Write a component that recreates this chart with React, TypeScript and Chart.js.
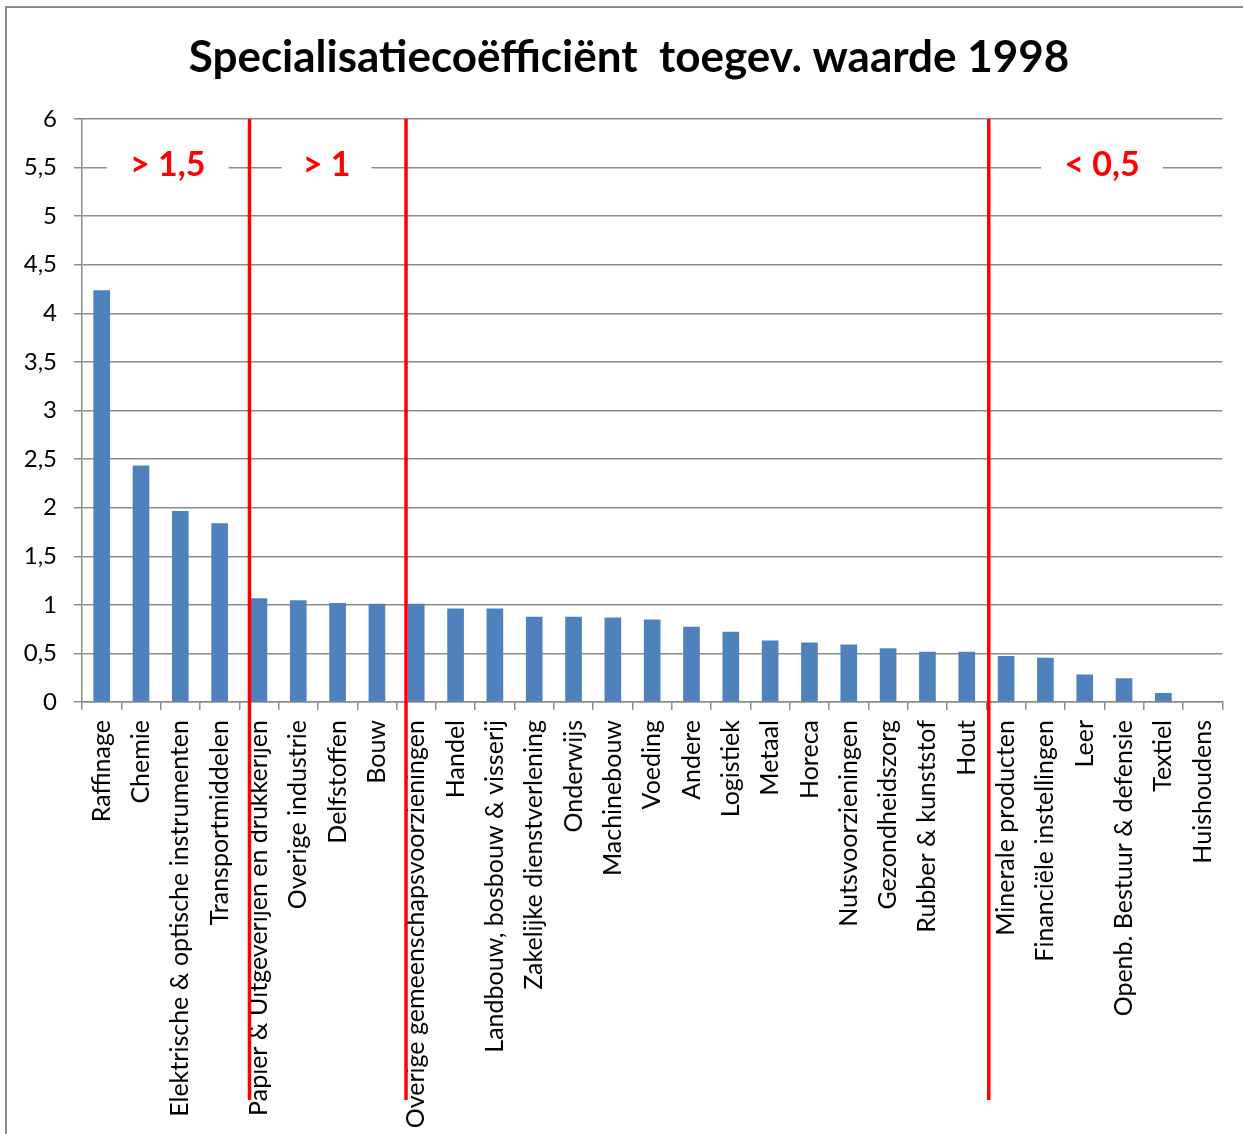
import React, { useEffect, useRef } from 'react';
import { Chart, registerables } from 'chart.js';

Chart.register(...registerables);

const titleText = 'Specialisatiecoëfficiënt  toegev. waarde 1998';

const categories = [
  'Raffinage',
  'Chemie',
  'Elektrische & optische instrumenten',
  'Transportmiddelen',
  'Papier & Uitgeverijen en drukkerijen',
  'Overige industrie',
  'Delfstoffen',
  'Bouw',
  'Overige gemeenschapsvoorzieningen',
  'Handel',
  'Landbouw, bosbouw & visserij',
  'Zakelijke dienstverlening',
  'Onderwijs',
  'Machinebouw',
  'Voeding',
  'Andere',
  'Logistiek',
  'Metaal',
  'Horeca',
  'Nutsvoorzieningen',
  'Gezondheidszorg',
  'Rubber & kunststof',
  'Hout',
  'Minerale producten',
  'Financiële instellingen',
  'Leer',
  'Openb. Bestuur & defensie',
  'Textiel',
  'Huishoudens',
];

const values = [
  4.235, 2.43, 1.962, 1.835, 1.065, 1.045, 1.015, 1.007, 1.007, 0.96,
  0.96, 0.875, 0.875, 0.865, 0.845, 0.77, 0.72, 0.63, 0.61, 0.588,
  0.55, 0.515, 0.515, 0.47, 0.453, 0.28, 0.24, 0.09, 0,
];

// first category index of each group separated by a red line
const groupStarts = [4, 8, 23];
// group annotation labels, their category-axis position and y value
const groupLabels = ['> 1,5', '> 1', '< 0,5'];
const groupLabelPos = [1.68, 5.72, 25.44];
const groupLabelY = 5.5;

const FONT = 'Lato, Carlito, Calibri, "Open Sans", sans-serif';
const GRID = '#8c8c8c';

const overlay = {
  id: 'overlay',
  beforeDraw(chart: any) {
    const ctx = chart.ctx;
    ctx.save();
    ctx.fillStyle = '#ffffff';
    ctx.fillRect(0, 0, chart.width, chart.height);
    ctx.strokeStyle = GRID;
    ctx.lineWidth = 2;
    ctx.beginPath();
    ctx.moveTo(6, chart.height);
    ctx.lineTo(6, 7);
    ctx.lineTo(chart.width, 7);
    ctx.stroke();
    ctx.fillStyle = '#000';
    ctx.font = `bold 44px ${FONT}`;
    ctx.textAlign = 'center';
    ctx.textBaseline = 'alphabetic';
    ctx.fillText(titleText, 629, 72);
    ctx.restore();
  },
  afterDraw(chart: any) {
    const ctx = chart.ctx;
    const x = chart.scales.x;
    const y = chart.scales.y;
    const area = chart.chartArea;
    const cw = x.getPixelForValue(1) - x.getPixelForValue(0);
    const shifts = [0.24, 0.26, 0.44];
    ctx.save();
    ctx.strokeStyle = '#ff0000';
    ctx.lineWidth = 3.5;
    groupStarts.forEach((g, i) => {
      const px = x.getPixelForValue(g) - shifts[i] * cw;
      ctx.beginPath();
      ctx.moveTo(px, area.top);
      ctx.lineTo(px, 1100);
      ctx.stroke();
    });
    const boxW = [122, 90, 122];
    groupLabels.forEach((t, i) => {
      const cx = x.getPixelForValue(0) + groupLabelPos[i] * cw;
      const cy = y.getPixelForValue(groupLabelY) - 3;
      ctx.fillStyle = '#ffffff';
      ctx.fillRect(cx - boxW[i] / 2, cy - 17, boxW[i], 34);
      ctx.fillStyle = '#ff0000';
      ctx.font = `bold 34px ${FONT}`;
      ctx.textAlign = 'center';
      ctx.textBaseline = 'middle';
      ctx.fillText(t, cx, cy);
    });
    ctx.restore();
  },
};

export default function App() {
  const ref = useRef<HTMLCanvasElement>(null);
  useEffect(() => {
    const chart = new Chart(ref.current as HTMLCanvasElement, {
      type: 'bar',
      data: {
        labels: categories,
        datasets: [
          {
            data: values,
            backgroundColor: '#4F81BD',
            borderWidth: 0,
            barThickness: 16,
          },
        ],
      },
      options: {
        animation: false,
        responsive: false,
        devicePixelRatio: 1,
        layout: { padding: { top: 119, right: 18, left: 0, bottom: 0 } },
        plugins: {
          legend: { display: false },
          title: { display: false },
          tooltip: { enabled: false },
        },
        scales: {
          x: {
            offset: true,
            grid: {
              drawOnChartArea: false,
              drawTicks: true,
              tickLength: 8,
              color: GRID,
              lineWidth: 1.5,
              offset: true,
            },
            border: { color: GRID, width: 1.5 },
            ticks: {
              autoSkip: false,
              maxRotation: 90,
              minRotation: 90,
              padding: 10,
              color: '#000',
              font: { family: FONT, size: 25 },
            },
            afterFit: (s: any) => {
              s.height = 432;
            },
          },
          y: {
            min: 0,
            max: 6,
            ticks: {
              stepSize: 0.5,
              padding: 17,
              color: '#000',
              font: { family: FONT, size: 24 },
              callback: (v: any) => String(v).replace('.', ','),
            },
            grid: { color: GRID, lineWidth: 1.5, tickLength: 8 },
            border: { color: GRID, width: 1.5 },
            afterFit: (s: any) => {
              s.width = 82;
            },
          },
        },
      },
      plugins: [overlay],
    } as any);
    return () => chart.destroy();
  }, []);
  return (
    <div style={{ position: 'fixed', left: 0, top: 0, width: 1243, height: 1134 }}>
      <canvas ref={ref} width={1243} height={1134} style={{ width: 1243, height: 1134, display: 'block' }} />
    </div>
  );
}
